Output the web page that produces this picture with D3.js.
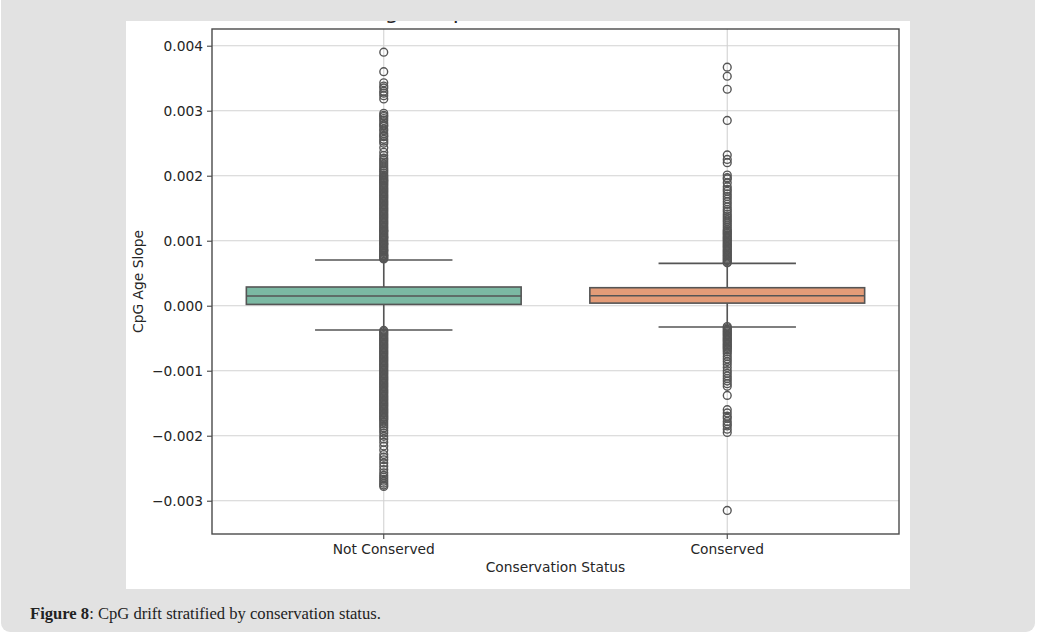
<!DOCTYPE html>
<html>
<head>
<meta charset="utf-8">
<script src="https://cdn.jsdelivr.net/npm/d3@7"></script>
<style>
  body { margin: 0; background: #ffffff; }
  svg { display: block; }
</style>
</head>
<body>
<svg id="chart" width="1039" height="634"></svg>
<script>
// === data ===
const categories = ["Not Conserved", "Conserved"];
const q1 = [0.00002, 0.00004];
const medians = [0.00015, 0.000154];
const q3 = [0.000288, 0.000277];
const whiskLow = [-0.000374, -0.000328];
const whiskHigh = [0.000703, 0.000652];

const yTicks = [-0.003, -0.002, -0.001, 0.000, 0.001, 0.002, 0.003, 0.004];

// outliers (dense bands listed point by point)
const notConservedOutliers = [
  0.00390, 0.00360, 0.00343, 0.00338, 0.00335, 0.00330, 0.00327, 0.00323, 0.00318,
  0.00296, 0.00293, 0.00291, 0.00288, 0.00285, 0.00281, 0.00278, 0.00276, 0.00272,
  0.00269, 0.00265, 0.00262, 0.00260, 0.00256, 0.00253, 0.00250, 0.00243, 0.00236,
  0.00231, 0.00227, 0.00224, 0.00221, 0.00218, 0.00215, 0.00212, 0.00209, 0.00207,
  0.00204, 0.00201, 0.00199, 0.00197, 0.00195, 0.00193,
  0.00192, 0.00190, 0.00188, 0.00186, 0.00184, 0.00182, 0.00180, 0.00178, 0.00176,
  0.00174, 0.00172, 0.00170, 0.00168, 0.00166, 0.00164, 0.00162, 0.00160, 0.00158,
  0.00156, 0.00154, 0.00152, 0.00150, 0.00148, 0.00146, 0.00144, 0.00142, 0.00140,
  0.00138, 0.00136, 0.00134, 0.00132, 0.00130, 0.00128, 0.00126, 0.00124, 0.00122,
  0.00120, 0.00118, 0.00116, 0.00115, 0.00114, 0.00112, 0.00110, 0.00108, 0.00106,
  0.00105, 0.00104, 0.00102, 0.00100, 0.00098, 0.00096, 0.00095, 0.00094, 0.00092,
  0.00090, 0.00088, 0.00086, 0.00085, 0.00084, 0.00082, 0.00080, 0.00078, 0.00077,
  0.00076, 0.00074, 0.00073, 0.00072,
  -0.00038, -0.00040, -0.00042, -0.00044, -0.00046, -0.00048, -0.00050, -0.00052,
  -0.00054, -0.00056, -0.00058, -0.00060, -0.00062, -0.00064, -0.00066, -0.00068,
  -0.00070, -0.00072, -0.00074, -0.00076, -0.00078, -0.00080, -0.00082, -0.00084,
  -0.00086, -0.00088, -0.00090, -0.00092, -0.00094, -0.00096, -0.00098, -0.00100,
  -0.00102, -0.00104, -0.00106, -0.00108, -0.00110, -0.00112, -0.00114, -0.00116,
  -0.00118, -0.00120, -0.00122, -0.00124, -0.00126, -0.00128, -0.00130, -0.00132,
  -0.00134, -0.00136, -0.00138, -0.00140, -0.00142, -0.00144, -0.00146, -0.00148,
  -0.00150, -0.00152, -0.00154, -0.00156, -0.00158, -0.00160, -0.00162, -0.00164,
  -0.00166, -0.00168, -0.00170, -0.00172, -0.00174, -0.00176,
  -0.00179, -0.00182, -0.00185, -0.00188, -0.00192, -0.00196, -0.00201, -0.00205,
  -0.00210, -0.00216, -0.00222, -0.00229, -0.00233, -0.00237, -0.00242, -0.00247,
  -0.00252, -0.00257, -0.00261, -0.00264, -0.00267, -0.00270, -0.00273, -0.00276,
  -0.00278
];

const conservedOutliers = [
  0.00367, 0.00353, 0.00333, 0.00285, 0.00232, 0.00225, 0.00220, 0.00201, 0.00197,
  0.00195, 0.00189, 0.00183, 0.00179, 0.00176, 0.00172, 0.00168, 0.00164, 0.00160,
  0.00156, 0.00152, 0.00148, 0.00145, 0.00141, 0.00138, 0.00135, 0.00132, 0.00129,
  0.00126, 0.00123, 0.00120, 0.00117,
  0.00115, 0.00113, 0.00111, 0.00109, 0.00107, 0.00105, 0.00103, 0.00101, 0.00099,
  0.00097, 0.00095, 0.00093, 0.00091, 0.00089, 0.00087, 0.00085, 0.00083, 0.00081,
  0.00079, 0.00077, 0.00075, 0.00073, 0.00071, 0.00069, 0.00067, 0.00066,
  -0.00032, -0.00034, -0.00036, -0.00038, -0.00040, -0.00042, -0.00044, -0.00046,
  -0.00048, -0.00050, -0.00052, -0.00054, -0.00056, -0.00058, -0.00060, -0.00062,
  -0.00064, -0.00066, -0.00068,
  -0.00071, -0.00074, -0.00078, -0.00082, -0.00086, -0.00090, -0.00095, -0.00100,
  -0.00104, -0.00108, -0.00112, -0.00116, -0.00120, -0.00124, -0.00138, -0.00160,
  -0.00165, -0.00170, -0.00173, -0.00178, -0.00182, -0.00185, -0.00190, -0.00195,
  -0.00315
];
const outliers = [notConservedOutliers, conservedOutliers];

const boxColors = ["#7bb9a3", "#e49c78"];
const lineColor = "#555555";

// === layout ===
const svg = d3.select("#chart");
const frame = { left: 212, right: 899, top: 29, bottom: 534 };
const labelFont = "13.8px";

// page panel and figure image
svg.append("rect")
  .attr("x", 1).attr("y", -12)
  .attr("width", 1034).attr("height", 644)
  .attr("rx", 9)
  .attr("fill", "#e2e2e2");

svg.append("rect")
  .attr("x", 126).attr("y", 21)
  .attr("width", 784).attr("height", 568)
  .attr("fill", "#ffffff");

svg.append("clipPath").attr("id", "imgClip")
  .append("rect").attr("x", 126).attr("y", 21).attr("width", 784).attr("height", 568);

const fig = svg.append("g").attr("clip-path", "url(#imgClip)");

const x = d3.scaleBand()
  .domain(categories)
  .range([frame.left, frame.right]);

const y = d3.scaleLinear()
  .domain([-0.003512, 0.004257])
  .range([frame.bottom, frame.top]);

// title (only its descenders survive the figure crop)
fig.append("text")
  .attr("x", (frame.left + frame.right) / 2)
  .attr("y", 18.5)
  .attr("text-anchor", "middle")
  .attr("font-family", "DejaVu Sans")
  .attr("font-size", "22px")
  .attr("fill", "#262626")
  .text("Age Slope vs Conservation Status");

// === grid ===
fig.append("g")
  .selectAll("line")
  .data(yTicks)
  .join("line")
  .attr("x1", frame.left).attr("x2", frame.right)
  .attr("y1", d => y(d)).attr("y2", d => y(d))
  .attr("stroke", "#d2d2d2")
  .attr("stroke-width", 1.1);

fig.append("g")
  .selectAll("line")
  .data(categories)
  .join("line")
  .attr("x1", d => x(d) + x.bandwidth() / 2).attr("x2", d => x(d) + x.bandwidth() / 2)
  .attr("y1", frame.top).attr("y2", frame.bottom)
  .attr("stroke", "#d2d2d2")
  .attr("stroke-width", 1.1);

// === boxes ===
const boxes = fig.append("g")
  .selectAll("g")
  .data(categories)
  .join("g");

const cx = d => x(d) + x.bandwidth() / 2;
const boxW = x.bandwidth() * 0.8;
const capW = boxW / 2;

// whiskers
boxes.append("line")
  .attr("x1", cx).attr("x2", cx)
  .attr("y1", (d, i) => y(q3[i])).attr("y2", (d, i) => y(whiskHigh[i]))
  .attr("stroke", lineColor).attr("stroke-width", 1.6);
boxes.append("line")
  .attr("x1", cx).attr("x2", cx)
  .attr("y1", (d, i) => y(q1[i])).attr("y2", (d, i) => y(whiskLow[i]))
  .attr("stroke", lineColor).attr("stroke-width", 1.6);
boxes.append("line")
  .attr("x1", d => cx(d) - capW / 2).attr("x2", d => cx(d) + capW / 2)
  .attr("y1", (d, i) => y(whiskHigh[i])).attr("y2", (d, i) => y(whiskHigh[i]))
  .attr("stroke", lineColor).attr("stroke-width", 1.6);
boxes.append("line")
  .attr("x1", d => cx(d) - capW / 2).attr("x2", d => cx(d) + capW / 2)
  .attr("y1", (d, i) => y(whiskLow[i])).attr("y2", (d, i) => y(whiskLow[i]))
  .attr("stroke", lineColor).attr("stroke-width", 1.6);

boxes.append("rect")
  .attr("x", d => cx(d) - boxW / 2)
  .attr("width", boxW)
  .attr("y", (d, i) => y(q3[i]))
  .attr("height", (d, i) => y(q1[i]) - y(q3[i]))
  .attr("fill", (d, i) => boxColors[i])
  .attr("stroke", lineColor)
  .attr("stroke-width", 1.6);

boxes.append("line")
  .attr("x1", d => cx(d) - boxW / 2).attr("x2", d => cx(d) + boxW / 2)
  .attr("y1", (d, i) => y(medians[i])).attr("y2", (d, i) => y(medians[i]))
  .attr("stroke", lineColor).attr("stroke-width", 1.6);

// outliers
boxes.each(function(d, i) {
  d3.select(this).selectAll("circle")
    .data(outliers[i])
    .join("circle")
    .attr("cx", cx(d))
    .attr("cy", v => y(v))
    .attr("r", 3.9)
    .attr("fill", "none")
    .attr("stroke", lineColor)
    .attr("stroke-width", 1.4);
});

// === axes ===
const yAxis = fig.append("g")
  .attr("transform", `translate(${frame.left},0)`)
  .call(d3.axisLeft(y).tickValues(yTicks).tickFormat(d3.format(".3f")).tickSize(5).tickPadding(4));

const xAxis = fig.append("g")
  .attr("transform", `translate(0,${frame.bottom})`)
  .call(d3.axisBottom(x).tickSize(5).tickPadding(5));

[yAxis, xAxis].forEach(ax => {
  ax.select(".domain").remove();
  ax.selectAll(".tick line").attr("stroke", "#444").attr("stroke-width", 1.1);
  ax.selectAll(".tick text")
    .attr("font-family", "DejaVu Sans")
    .attr("font-size", labelFont)
    .attr("fill", "#262626");
});

// frame
fig.append("rect")
  .attr("x", frame.left).attr("y", frame.top)
  .attr("width", frame.right - frame.left)
  .attr("height", frame.bottom - frame.top)
  .attr("fill", "none")
  .attr("stroke", "#4a4a4a")
  .attr("stroke-width", 1.4);

// axis labels
fig.append("text")
  .attr("x", (frame.left + frame.right) / 2)
  .attr("y", 572)
  .attr("text-anchor", "middle")
  .attr("font-family", "DejaVu Sans")
  .attr("font-size", labelFont)
  .attr("fill", "#262626")
  .text("Conservation Status");

fig.append("text")
  .attr("transform", `translate(143,${(frame.top + frame.bottom) / 2}) rotate(-90)`)
  .attr("text-anchor", "middle")
  .attr("font-family", "DejaVu Sans")
  .attr("font-size", labelFont)
  .attr("fill", "#262626")
  .text("CpG Age Slope");

// caption
const caption = svg.append("text")
  .attr("x", 30)
  .attr("y", 619)
  .attr("font-family", "Liberation Serif")
  .attr("font-size", "16.6px")
  .attr("fill", "#222");
caption.append("tspan").attr("font-weight", "bold").text("Figure 8");
caption.append("tspan").text(": CpG drift stratified by conservation status.");
</script>
</body>
</html>
